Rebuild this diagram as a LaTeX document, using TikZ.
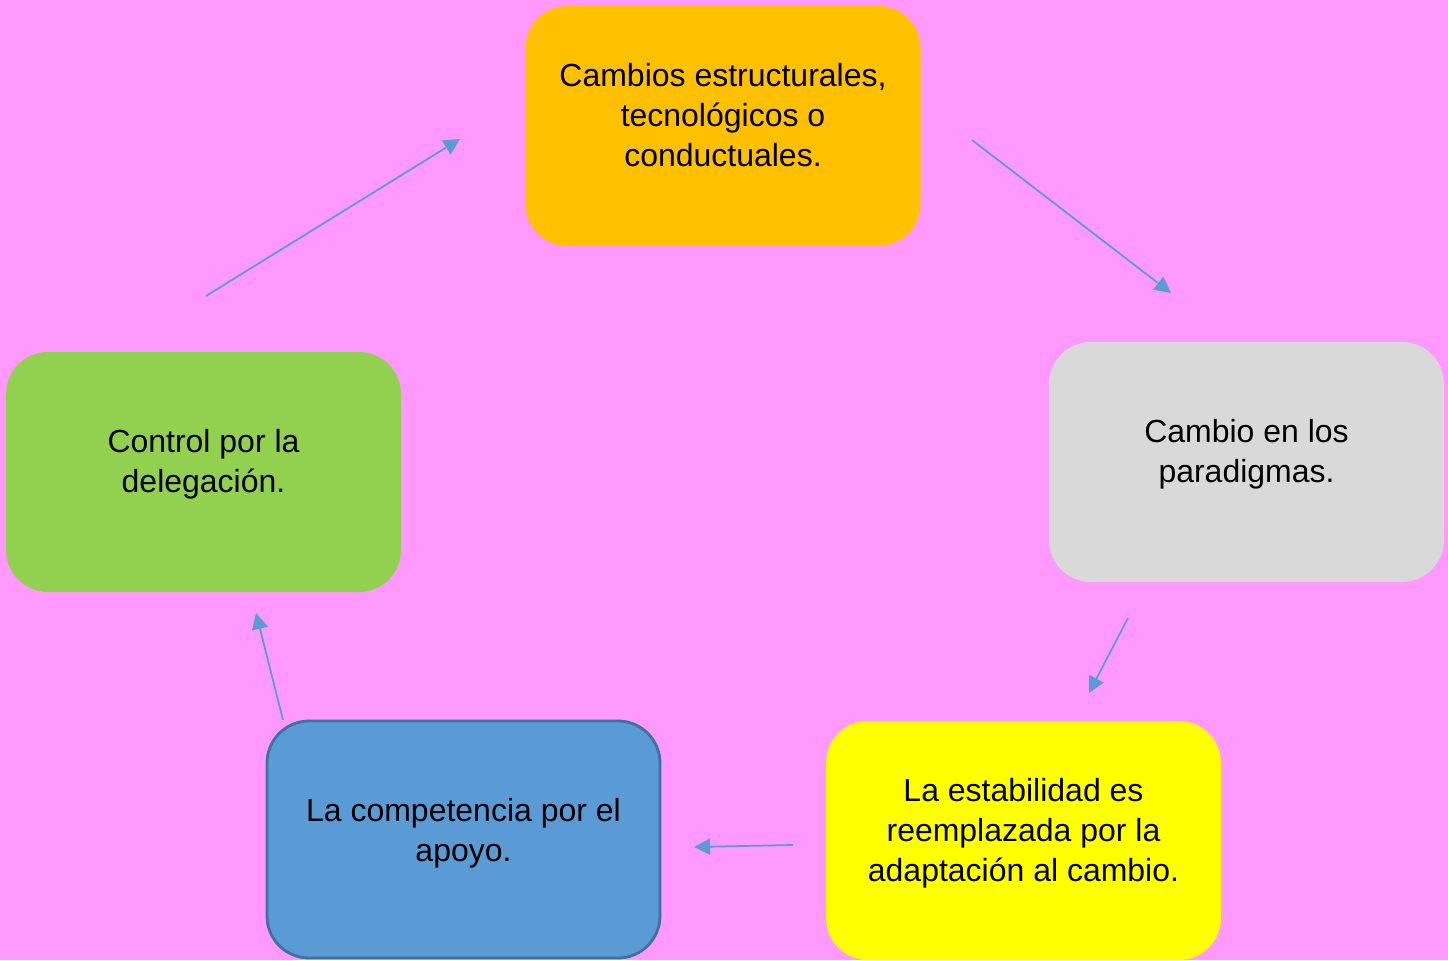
\documentclass[tikz,border=0pt]{standalone}
\usepackage{fontspec}
\setmainfont{Liberation Sans}
\usetikzlibrary{arrows.meta, positioning}
\definecolor{fondo}{HTML}{FF99FF}
\definecolor{naranja}{HTML}{FFC000}
\definecolor{gris}{HTML}{D9D9D9}
\definecolor{amarillo}{HTML}{FFFF00}
\definecolor{azul}{HTML}{5B9BD5}
\definecolor{azulborde}{HTML}{41719C}
\definecolor{verde}{HTML}{92D050}

\begin{document}
\begin{tikzpicture}[auto, >={Triangle[length=4.6pt, width=4.6pt]}]
        % Estilos para las cajas, textos y flechas
        \tikzstyle{caja} = [rectangle, rounded corners=0.42cm, minimum width=3.95cm, minimum height=2.4cm, inner sep=0pt]
        \tikzstyle{texto} = [align=center, font=\fontsize{9.1}{11.4}\selectfont, inner sep=0pt]
        \tikzstyle{flecha} = [->, draw=azul, line width=0.5pt]
       % Fondo
       \fill[fondo] (0,0) rectangle (14.48,9.60);
       \useasboundingbox (0,0) rectangle (14.48,9.60);
       % Cajas
       \node at (7.23,8.34) [caja, fill=naranja] (cambios) {}; % Caja superior
       \node at (12.465,4.98) [caja, fill=gris] (paradigmas) {}; % Caja derecha
       \node at (10.235,1.195) [caja, fill=amarillo, minimum height=2.39cm] (estabilidad) {}; % Caja inferior derecha
       \node at (4.635,1.205) [caja, fill=azul, draw=azulborde, line width=0.8pt, minimum width=3.93cm, minimum height=2.37cm] (competencia) {}; % Caja inferior izquierda
       \node at (2.035,4.88) [caja, fill=verde] (control) {}; % Caja izquierda
       % Textos
       \node [texto] at ([yshift=0.11cm]cambios.center) (cambiosT) {Cambios estructurales,\\tecnológicos o\\conductuales.};
       \node [texto] at ([yshift=0.08cm]paradigmas.center) (paradigmasT) {Cambio en los\\paradigmas.};
       \node [texto] at ([yshift=0.075cm]estabilidad.center) (estabilidadT) {La estabilidad es\\reemplazada por la\\adaptación al cambio.};
       \node [texto] at ([yshift=0.065cm]competencia.center) (competenciaT) {La competencia por el\\apoyo.};
       \node [texto] at ([yshift=0.08cm]control.center) (controlT) {Control por la\\delegación.};
       % Extremos de las flechas
       \coordinate (a1) at (9.72,8.20);
       \coordinate (b1) at (11.71,6.67);
       \coordinate (a2) at (11.28,3.42);
       \coordinate (b2) at (10.89,2.67);
       \coordinate (a3) at (7.93,1.15);
       \coordinate (b3) at (6.94,1.13);
       \coordinate (a4) at (2.83,2.40);
       \coordinate (b4) at (2.56,3.47);
       \coordinate (a5) at (2.06,6.64);
       \coordinate (b5) at (4.60,8.21);
       % Flechas
       \draw[flecha] (a1) -- (b1); % Cambios a paradigmas
       \draw[flecha] (a2) -- (b2); % Paradigmas a estabilidad
       \draw[flecha] (a3) -- (b3); % Estabilidad a competencia
       \draw[flecha] (a4) -- (b4); % Competencia a control
       \draw[flecha] (a5) -- (b5); % Control a cambios
\end{tikzpicture}
\end{document}
